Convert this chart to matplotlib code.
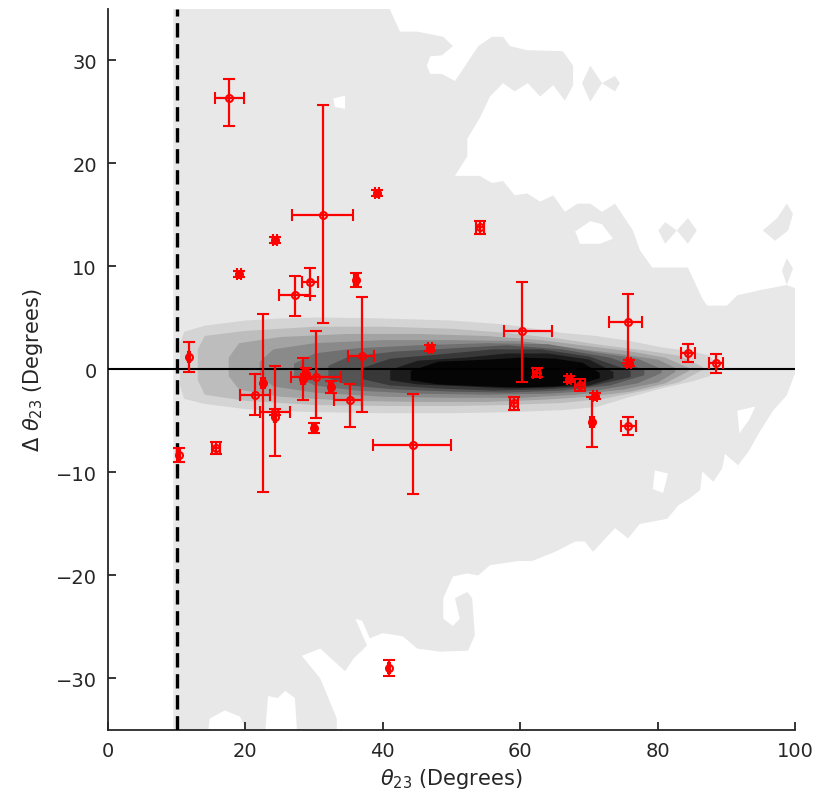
import matplotlib
matplotlib.use("Agg")
import matplotlib.pyplot as plt

# ---------------- data: measured points ----------------
theta = [17.6, 31.3, 24.3, 19.1, 39.2, 36.1, 29.4, 27.2, 37.0, 11.8,
         10.3, 15.7, 22.6, 21.4, 24.3, 24.3, 28.4, 28.8, 30.3, 30.0,
         32.4, 35.2, 44.4, 40.9, 46.9, 54.1, 60.3, 62.4, 59.1, 67.1,
         68.7, 70.9, 70.5, 75.7, 75.7, 75.8, 84.4, 88.5]
dtheta = [26.4, 15.0, 12.6, 9.3, 17.1, 8.7, 8.45, 7.2, 1.3, 1.2,
          -8.3, -7.6, -1.3, -2.5, -4.1, -4.6, -0.9, -0.4, -0.7, -5.7,
          -1.7, -3.0, -7.3, -29.0, 2.1, 13.8, 3.7, -0.3, -3.3, -0.9,
          -1.5, -2.6, -5.1, -5.5, 4.6, 0.6, 1.6, 0.6]
xerr_lo = [2.0, 4.5, 0.3, 0.3, 0.3, 0.3, 1.2, 2.3, 2.1, 0.2,
           0.2, 0.6, 0.3, 2.2, 2.2, 0.2, 0.3, 0.3, 3.7, 0.3,
           0.3, 2.3, 5.8, 0.2, 0.3, 0.6, 2.7, 0.5, 0.6, 0.3,
           0.8, 0.3, 0.3, 1.1, 2.8, 0.3, 1.0, 1.0]
xerr_hi = [2.2, 4.4, 0.3, 0.3, 0.3, 0.3, 1.2, 2.2, 1.7, 0.2,
           0.2, 0.6, 0.3, 2.2, 2.2, 0.2, 0.3, 0.3, 3.6, 0.3,
           0.3, 1.8, 5.5, 0.2, 0.3, 0.6, 4.3, 0.5, 0.6, 0.3,
           0.8, 0.3, 0.3, 1.1, 2.0, 0.3, 1.0, 1.0]
yerr_lo = [2.8, 10.5, 0.3, 0.3, 0.3, 0.7, 1.3, 2.0, 5.4, 1.4,
           0.7, 0.6, 10.6, 1.9, 0.3, 3.8, 2.1, 0.5, 4.0, 0.5,
           0.6, 2.6, 4.8, 0.8, 0.3, 0.6, 4.9, 0.4, 0.6, 0.3,
           0.6, 0.3, 2.4, 0.9, 4.0, 0.3, 0.9, 0.9]
yerr_hi = [1.8, 10.7, 0.3, 0.3, 0.3, 0.7, 1.4, 1.9, 5.7, 1.5,
           0.7, 0.6, 6.7, 2.1, 0.3, 4.9, 2.0, 0.5, 4.4, 0.5,
           0.6, 1.6, 4.9, 0.8, 0.3, 0.6, 4.8, 0.4, 0.6, 0.3,
           0.6, 0.3, 2.4, 0.9, 2.7, 0.3, 0.9, 0.9]

# ---------------- data: background density (light region outline) ----------------
bg_x = [9.5, 41.0, 42.5, 45.0, 48.8, 50.2, 48.6, 46.9, 46.4, 46.9, 48.6, 50.5,
        53.9, 55.9, 57.5, 58.5, 61.0, 66.2, 67.7, 67.7, 66.5, 64.8, 62.9, 61.1,
        59.2, 57.5, 55.6, 54.1, 52.3, 52.3, 50.5, 54.1, 55.9, 57.5, 59.2, 61.0,
        62.9, 64.8, 66.5, 68.3, 70.2, 71.9, 73.8, 76.4, 77.4, 79.2, 84.4, 86.5,
        87.2, 90.1, 91.6, 94.9, 98.8, 100.0, 100.0, 99.7, 98.8, 96.8, 94.9, 93.2,
        91.7, 89.8, 89.4, 88.1, 86.5, 86.2, 84.7, 83.0, 81.4, 77.4, 75.7, 73.8,
        70.6, 69.4, 68.0, 65.1, 61.7, 59.7, 55.6, 53.9, 52.3, 50.2, 48.8, 48.8,
        50.2, 51.2, 50.5, 52.3, 53.0, 53.4, 52.4, 48.3, 45.0, 42.9, 40.0, 38.1,
        37.0, 36.0, 37.7, 35.7, 34.5, 30.9, 28.2, 30.9, 33.3, 33.3, 27.5, 27.2,
        25.8, 24.7, 23.3, 22.9, 20.2, 19.2, 17.0, 14.8, 14.6, 9.5]
bg_y = [35.0, 35.0, 32.8, 32.8, 32.3, 31.4, 30.5, 30.4, 29.5, 28.7, 28.7, 28.0,
        31.4, 32.3, 32.3, 31.4, 31.0, 30.9, 29.5, 27.6, 26.1, 27.6, 26.5, 27.8,
        27.0, 27.8, 26.5, 24.4, 22.4, 20.7, 18.8, 18.8, 18.1, 18.3, 16.9, 17.1,
        16.3, 16.9, 15.3, 16.1, 16.1, 15.3, 16.1, 13.5, 11.6, 9.9, 9.9, 6.9,
        6.2, 6.2, 7.2, 7.7, 8.2, 7.9, -0.4, -0.9, -2.5, -4.0, -6.0, -8.0,
        -9.3, -8.2, -9.6, -10.9, -9.9, -11.7, -12.5, -13.2, -14.5, -15.0, -16.4, -15.4,
        -17.7, -16.7, -16.7, -17.7, -18.6, -18.6, -19.0, -20.0, -19.8, -20.1, -22.2, -24.2,
        -24.9, -24.2, -22.2, -21.6, -22.2, -25.8, -27.3, -27.4, -27.1, -25.9, -25.6, -26.1,
        -24.4, -24.2, -26.8, -28.1, -29.3, -27.1, -27.8, -30.0, -33.9, -35.0, -35.0, -31.9,
        -31.2, -31.9, -31.7, -35.0, -35.0, -33.7, -33.1, -33.9, -35.0, -35.0]

# white holes inside the light region
holes = [
    ([32.8, 34.5, 34.5, 33.0], [26.3, 26.6, 25.3, 25.5]),
    ([68.0, 70.2, 71.9, 73.5, 71.6, 68.7], [13.4, 14.4, 14.1, 12.7, 12.2, 12.2]),
    ([79.6, 81.5, 80.8, 79.3], [-9.8, -10.1, -12.0, -11.6]),
    ([91.6, 94.2, 93.4, 91.9], [-4.0, -3.6, -4.8, -6.2]),
]
# small light islands
islands = [
    ([70.2, 71.9, 70.2, 69.0], [29.5, 27.8, 26.0, 27.8]),
    ([73.8, 74.5, 73.8, 71.9], [28.5, 27.8, 27.0, 27.8]),
    ([80.1, 81.1, 82.8, 81.1], [13.5, 14.3, 13.5, 12.2]),
    ([82.8, 84.4, 85.7, 84.4], [13.5, 14.7, 13.5, 12.2]),
    ([95.3, 97.4, 98.8, 99.7, 99.0, 97.1], [13.5, 14.7, 16.1, 15.1, 13.5, 12.5]),
    ([98.8, 99.7, 98.8, 98.1], [10.8, 9.8, 8.2, 9.6]),
]

# density core levels (x, upper edge, lower edge)
core_levels = [
    ([10.4, 11, 14, 20, 25, 31, 40, 50, 58, 66, 71, 76, 80.5, 85, 87.5, 88.6],
     [2.5, 3.7, 4.3, 4.8, 5.0, 5.1, 5.0, 4.8, 4.4, 3.6, 3.3, 2.8, 2.2, 1.8, 1.4, 0.3],
     [-1.5, -2.8, -3.3, -3.8, -4.0, -4.1, -4.2, -4.2, -4.1, -3.9, -3.6, -2.6, -1.8, -1.1, -0.6, 0.3]),
    ([13, 14, 20, 30, 40, 50, 58, 66, 72, 78, 83, 86.5],
     [2.0, 3.3, 3.8, 4.2, 4.2, 4.0, 3.6, 3.0, 2.4, 1.9, 1.4, 0.3],
     [-1.0, -2.4, -3.0, -3.4, -3.5, -3.5, -3.4, -3.2, -2.8, -2.0, -1.2, 0.0]),
    ([17.5, 19, 25, 35, 45, 55, 63, 70, 76, 81, 84.5],
     [1.2, 2.6, 3.2, 3.5, 3.5, 3.3, 2.9, 2.3, 1.8, 1.2, 0.2],
     [-0.6, -1.9, -2.6, -3.0, -3.1, -3.1, -2.9, -2.6, -2.1, -1.3, -0.1]),
    ([22, 24, 30, 40, 50, 60, 68, 75, 80, 82.5],
     [0.8, 2.0, 2.6, 2.9, 2.9, 2.8, 2.1, 1.5, 1.0, 0.2],
     [-0.5, -1.6, -2.2, -2.6, -2.7, -2.7, -2.4, -1.9, -1.2, -0.2]),
    ([27, 30, 36, 45, 55, 64, 71, 77, 80.5],
     [0.6, 1.6, 2.1, 2.4, 2.6, 2.5, 1.7, 1.1, 0.1],
     [-0.6, -1.5, -2.0, -2.3, -2.4, -2.3, -2.0, -1.3, -0.3]),
    ([32, 35, 42, 50, 58, 66, 73, 78],
     [0.4, 1.3, 1.8, 2.1, 2.4, 2.0, 1.2, 0.0],
     [-0.8, -1.5, -1.9, -2.1, -2.2, -2.0, -1.5, -0.5]),
    ([37, 41, 48, 56, 63, 70, 76],
     [0.2, 1.1, 1.5, 2.0, 2.0, 1.3, -0.1],
     [-0.9, -1.5, -1.8, -2.0, -1.9, -1.6, -0.7]),
    ([41, 45, 52, 58, 64, 70, 73.5],
     [0.0, 0.9, 1.2, 1.6, 1.6, 1.0, -0.2],
     [-1.0, -1.4, -1.6, -1.8, -1.7, -1.5, -0.8]),
    ([44, 48, 55, 60, 65, 69, 71.5],
     [-0.1, 0.8, 1.0, 1.2, 1.1, 0.7, -0.3],
     [-1.0, -1.4, -1.6, -1.7, -1.6, -1.3, -0.8]),
]
core_grey = [0.83, 0.74, 0.64, 0.54, 0.44, 0.33, 0.22, 0.11, 0.02]

x_ticks = [0, 20, 40, 60, 80, 100]
y_ticks = [-30, -20, -10, 0, 10, 20, 30]
cut_theta = 10

# ---------------- plotting ----------------
plt.rcParams['mathtext.fontset'] = 'dejavusans'
fig = plt.figure(figsize=(8.22, 8.12), dpi=100)
ax = fig.add_axes([0.1314, 0.0998, 0.8358, 0.8879])

light = '#e8e8e8'
ax.fill(bg_x, bg_y, color=light, lw=0, zorder=1)
for hx, hy in holes:
    ax.fill(hx, hy, color='white', lw=0, zorder=1.5)
for ix, iy in islands:
    ax.fill(ix, iy, color=light, lw=0, zorder=1.5)
for (cx, ct, cb), g in zip(core_levels, core_grey):
    ax.fill_between(cx, cb, ct, color=str(g), lw=0, zorder=2)

ax.axhline(0, color='black', lw=1.5, zorder=3)
ax.axvline(cut_theta, color='black', lw=2.4, dashes=(4.3, 2.0), zorder=3)

ax.errorbar(theta, dtheta, xerr=[xerr_lo, xerr_hi], yerr=[yerr_lo, yerr_hi],
            fmt='o', color='red', mfc='none', mec='red', ms=5, mew=1.5,
            elinewidth=1.6, capsize=4, capthick=1.6, zorder=4)

ax.set_xlim(0, 100)
ax.set_ylim(-35, 35)
ax.set_xticks(x_ticks)
ax.set_yticks(y_ticks)
for s in ['top', 'right']:
    ax.spines[s].set_visible(False)
for s in ['left', 'bottom']:
    ax.spines[s].set_linewidth(1.3)
    ax.spines[s].set_color('#262626')
ax.tick_params(direction='in', length=6, width=1.3, colors='#262626',
               labelsize=14, pad=8)
ax.set_xlabel(r'$\theta_{23}$ (Degrees)', fontsize=15, color='#262626', labelpad=4)
ax.set_ylabel(r'$\Delta\ \theta_{23}$ (Degrees)', fontsize=15, color='#262626', labelpad=8)

fig.savefig('out.png', dpi=100)
